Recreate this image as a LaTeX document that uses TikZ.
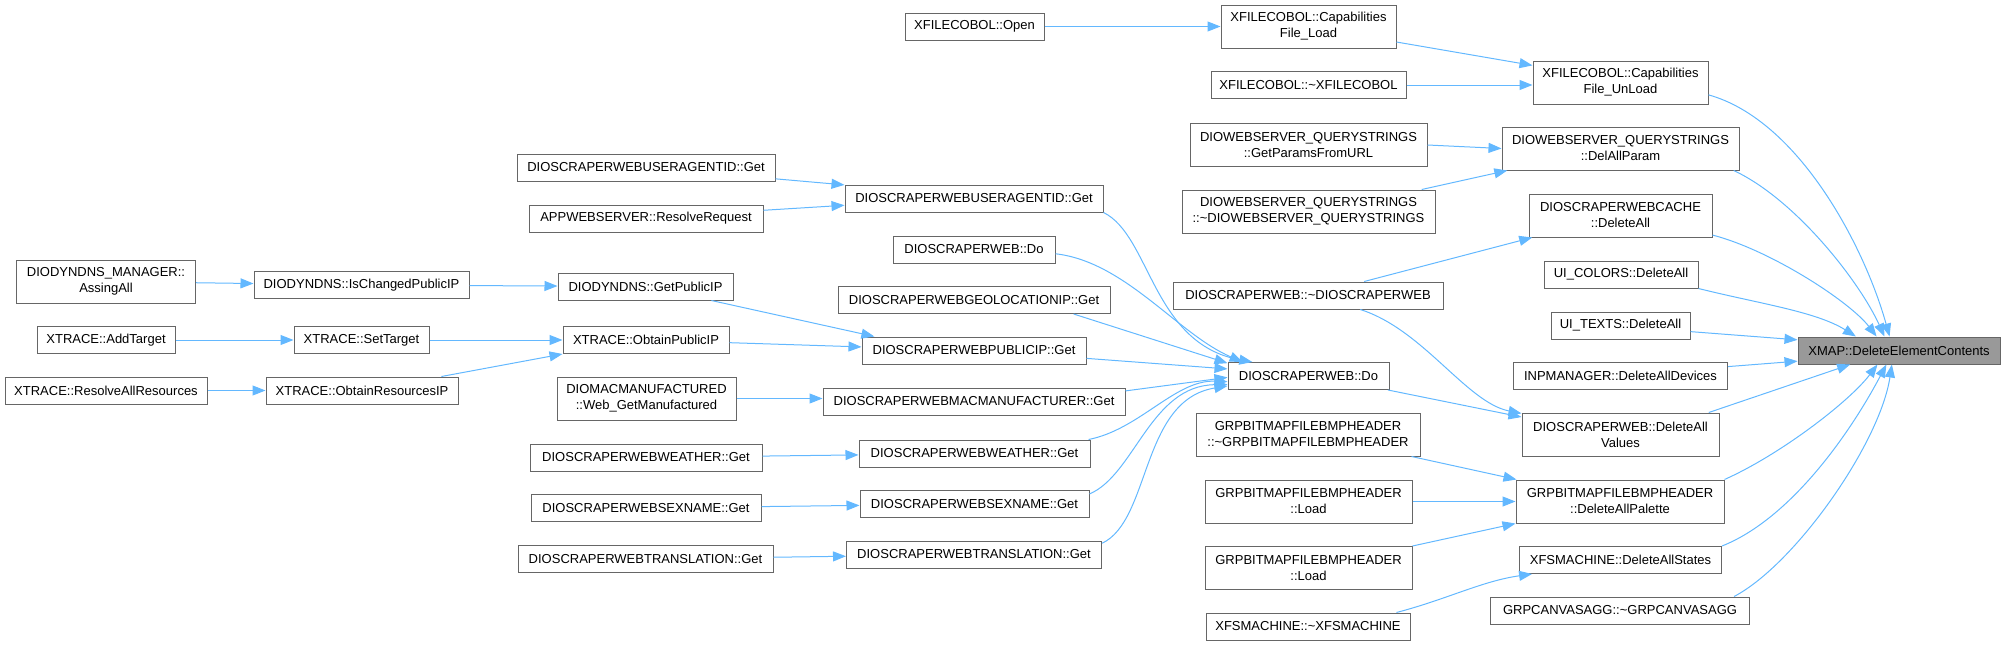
\documentclass[tikz,border=0pt]{standalone}
\usepackage{fontspec}
\setmainfont{Liberation Sans}
\usepackage{tikz}
\usetikzlibrary{arrows.meta,calc}
\usetikzlibrary{positioning}
\definecolor{boxgray}{HTML}{666666}
\definecolor{rootgray}{HTML}{999999}
\definecolor{callblue}{HTML}{63B8FF}
\newcommand{\tld}{\textasciitilde}

\begin{document}
\begin{tikzpicture}[x=1pt, y=-1pt,
                box/.style={draw=boxgray, line width=1pt, fill=white, font=\fontsize{13}{16}\selectfont, align=center, inner sep=0pt, minimum height=27pt, minimum width=#1},
                boxtwo/.style={box=#1, minimum height=43pt},
                call/.style={draw=callblue, line width=1pt, -{Triangle[length=13pt,width=10pt]}}]
                \useasboundingbox (0,0) rectangle (2006,645);
                \node[box=202pt, fill=rootgray] (xmap) at (1899,350.5) {XMAP::DeleteElementContents};
                \node[boxtwo=175pt] (unload) at (1620.5,82.5) {XFILECOBOL::Capabilities\\File\_UnLoad};
                \node[boxtwo=237pt] (delallparam) at (1620.5,148.5) {DIOWEBSERVER\_QUERYSTRINGS\\::DelAllParam};
                \node[boxtwo=183pt] (cachedel) at (1620.5,215.5) {DIOSCRAPERWEBCACHE\\::DeleteAll};
                \node[box=154pt] (colorsdel) at (1621,274.5) {UI\_COLORS::DeleteAll};
                \node[box=139pt] (textsdel) at (1620.5,325.5) {UI\_TEXTS::DeleteAll};
                \node[box=214pt] (inpdel) at (1620.5,376) {INPMANAGER::DeleteAllDevices};
                \node[boxtwo=197pt] (valuesdel) at (1620.5,434.5) {DIOSCRAPERWEB::DeleteAll\\Values};
                \node[boxtwo=208pt] (palettedel) at (1620,501.5) {GRPBITMAPFILEBMPHEADER\\::DeleteAllPalette};
                \node[box=202pt] (statesdel) at (1620.5,560) {XFSMACHINE::DeleteAllStates};
                \node[box=259pt] (canvasdestr) at (1620,610.5) {GRPCANVASAGG::\tld GRPCANVASAGG};
                \node[boxtwo=175pt] (fileload) at (1308.5,26.5) {XFILECOBOL::Capabilities\\File\_Load};
                \node[box=195pt] (xfdestr) at (1308.5,85) {XFILECOBOL::\tld XFILECOBOL};
                \node[boxtwo=237pt] (getparams) at (1308.5,145) {DIOWEBSERVER\_QUERYSTRINGS\\::GetParamsFromURL};
                \node[boxtwo=253pt] (qsdestr) at (1308.5,211.5) {DIOWEBSERVER\_QUERYSTRINGS\\::\tld DIOWEBSERVER\_QUERYSTRINGS};
                \node[box=270pt] (swdestr) at (1308,295.5) {DIOSCRAPERWEB::\tld DIOSCRAPERWEB};
                \node[box=161pt] (dodo2) at (1308.5,376) {DIOSCRAPERWEB::Do};
                \node[boxtwo=224pt] (bmpdestr) at (1308,434.5) {GRPBITMAPFILEBMPHEADER\\::\tld GRPBITMAPFILEBMPHEADER};
                \node[boxtwo=207pt] (load1) at (1308.5,501.5) {GRPBITMAPFILEBMPHEADER\\::Load};
                \node[boxtwo=207pt] (load2) at (1308.5,568) {GRPBITMAPFILEBMPHEADER\\::Load};
                \node[box=204pt] (fsmdestr) at (1308,626.5) {XFSMACHINE::\tld XFSMACHINE};
                \node[box=139pt] (xfopen) at (974.5,26.5) {XFILECOBOL::Open};
                \node[box=258pt] (uaget2) at (974,198.5) {DIOSCRAPERWEBUSERAGENTID::Get};
                \node[box=162pt] (dodo1) at (974,249.5) {DIOSCRAPERWEB::Do};
                \node[box=272pt] (geoget) at (974,300) {DIOSCRAPERWEBGEOLOCATIONIP::Get};
                \node[box=224pt] (publicget) at (974,350.5) {DIOSCRAPERWEBPUBLICIP::Get};
                \node[box=302pt] (macget) at (974,401.5) {DIOSCRAPERWEBMACMANUFACTURER::Get};
                \node[box=231pt] (weather2) at (974.5,453.5) {DIOSCRAPERWEBWEATHER::Get};
                \node[box=229pt] (sexname2) at (974.5,504) {DIOSCRAPERWEBSEXNAME::Get};
                \node[box=255pt] (translation2) at (974,554.5) {DIOSCRAPERWEBTRANSLATION::Get};
                \node[box=258pt] (uaget1) at (646,167.5) {DIOSCRAPERWEBUSERAGENTID::Get};
                \node[box=234pt] (appresolve) at (646,218.5) {APPWEBSERVER::ResolveRequest};
                \node[box=175pt] (getpublicip) at (645.5,286.5) {DIODYNDNS::GetPublicIP};
                \node[box=166pt] (obtainpublic) at (646,340) {XTRACE::ObtainPublicIP};
                \node[boxtwo=179pt] (macweb) at (646.5,398.5) {DIOMACMANUFACTURED\\::Web\_GetManufactured};
                \node[box=232pt] (weather1) at (646,457.5) {DIOSCRAPERWEBWEATHER::Get};
                \node[box=230pt] (sexname1) at (646,508) {DIOSCRAPERWEBSEXNAME::Get};
                \node[box=255pt] (translation1) at (645.5,559) {DIOSCRAPERWEBTRANSLATION::Get};
                \node[box=215pt] (ischanged) at (361.5,285) {DIODYNDNS::IsChangedPublicIP};
                \node[box=135pt] (settarget) at (361.5,340) {XTRACE::SetTarget};
                \node[box=192pt] (obtainres) at (362,390.5) {XTRACE::ObtainResourcesIP};
                \node[boxtwo=179pt] (mgrassing) at (106,281.5) {DIODYNDNS\_MANAGER::\\AssingAll};
                \node[box=138pt] (addtarget) at (106,340) {XTRACE::AddTarget};
                \node[box=202pt] (resolveall) at (106,390.5) {XTRACE::ResolveAllResources};
                \draw[call] (unload.-8) .. controls +(90,25) and +(-25,-90) .. (xmap.124);
                \draw[call] (delallparam.-11) .. controls +(62,29) and +(-25,-55) .. (xmap.136);
                \draw[call] (cachedel.-12) .. controls +(58,15) and +(-27,-35) .. (xmap.148);
                \draw[call] (colorsdel.south east) .. controls +(60,15) and +(-40,-25) .. (xmap.162);
                \draw[call] (textsdel.-5) -- (xmap.174);
                \draw[call] (inpdel.5) -- (xmap.186);
                \draw[call] (valuesdel.14) -- (xmap.196);
                \draw[call] (palettedel.north east) .. controls +(56,-25) and +(-28,37) .. (xmap.213);
                \draw[call] (statesdel.north east) .. controls +(68,-27) and +(-37,70) .. (xmap.228);
                \draw[call] (canvasdestr.7) .. controls +(61,-32) and +(-12,79) .. (xmap.243);
                \draw[call] (xfopen) -- (fileload);
                \draw[call] (fileload.-10) -- (unload.169);
                \draw[call] (xfdestr.east) -- (xfdestr.east -| unload.west);
                \draw[call] (getparams.east) -- (delallparam.west);
                \draw[call] (qsdestr.11) -- (delallparam.191);
                \draw[call] (swdestr.14) -- (cachedel.194);
                \draw[call] (swdestr.-15) .. controls +(63,20) and +(-55,-11) .. (valuesdel.168);
                \draw[call] (dodo2.-10) -- (valuesdel.170);
                \draw[call] (bmpdestr.-12) -- (palettedel.168);
                \draw[call] (load1) -- (palettedel);
                \draw[call] (load2.north east) -- (palettedel.south west);
                \draw[call] (fsmdestr.9) .. controls +(50,-13) and +(-50,7) .. (statesdel.189);
                \draw[call] (uaget2.south east) .. controls +(47,23) and +(-100,-18) .. (dodo2.166);
                \draw[call] (dodo1.-3) .. controls +(70,8) and +(-65,-28) .. (dodo2.168);
                \draw[call] (geoget.-8) -- (dodo2.171);
                \draw[call] (publicget.-4) -- (dodo2.175);
                \draw[call] (macget.4) -- (dodo2.181);
                \draw[call] (weather2.7) .. controls +(51,-10) and +(-52,-2) .. (dodo2.184);
                \draw[call] (sexname2.5) .. controls +(45,-19) and +(-77,1) .. (dodo2.186);
                \draw[call] (translation2.5) .. controls +(49,-23) and +(-87,14) .. (dodo2.187);
                \draw[call] (uaget1.-5) -- (uaget2.174);
                \draw[call] (appresolve.4) -- (uaget2.183);
                \draw[call] (getpublicip.-12) -- (publicget.172);
                \draw[call] (obtainpublic) -- (publicget);
                \draw[call] (macweb.east) -- (macweb.east -| macget.west);
                \draw[call] (weather1) -- (weather2);
                \draw[call] (sexname1) -- (sexname2);
                \draw[call] (translation1) -- (translation2);
                \draw[call] (mgrassing) -- (ischanged);
                \draw[call] (ischanged) -- (getpublicip);
                \draw[call] (addtarget) -- (settarget);
                \draw[call] (settarget) -- (obtainpublic);
                \draw[call] (resolveall) -- (obtainres);
                \draw[call] (obtainres.10) -- (obtainpublic.south west);
            \end{tikzpicture}
\end{document}
